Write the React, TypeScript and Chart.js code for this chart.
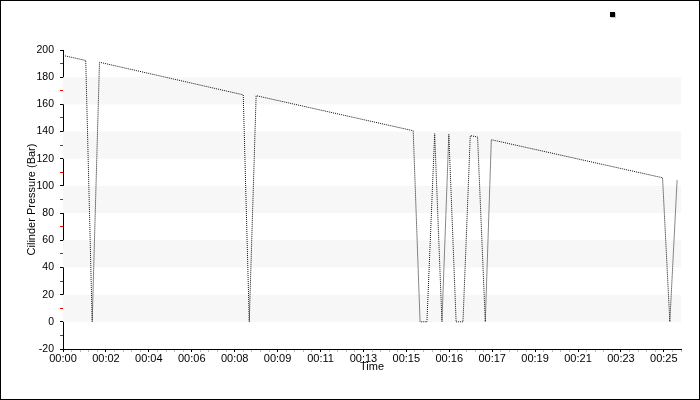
import React, { useEffect, useRef } from "react";
import { Chart, registerables } from "chart.js";

Chart.register(...registerables);

// X tick labels (one per major tick, evenly spaced)
const xTickLabels = [
  "00:00", "00:02", "00:04", "00:06", "00:08", "00:09", "00:11", "00:13",
  "00:15", "00:16", "00:17", "00:19", "00:21", "00:23", "00:25",
];

// Time positions (in major-tick units) and cylinder pressure (Bar)
const times = [
  0, 0.53, 0.68, 0.85, 4.2, 4.34, 4.5, 8.16, 8.32, 8.48, 8.66, 8.83, 8.99,
  9.16, 9.32, 9.49, 9.66, 9.84, 9.98, 13.97, 14.14, 14.31,
];
const pressures = [
  196, 192.3, 0, 191, 167, 0, 166.4, 140.6, 0, 0, 138.4, 0, 138, 0, 0, 137,
  136, 0, 134, 106, 0, 104.7,
];

// Alternating shaded bands of the plot background
const bandRanges: [number, number][] = [
  [0, 20],
  [40, 60],
  [80, 100],
  [120, 140],
  [160, 180],
];

const Y_MIN = -20;
const Y_MAX = 200;
const X_MAX = 14.4;

const isMajorX = (v: number) => Math.abs(v - Math.round(v)) < 1e-6;
const isMajorY = (v: number) => Math.abs(v % 20) < 1e-6;

const bandsPlugin = {
  id: "bands",
  beforeDatasetsDraw(chart: any) {
    const { ctx, chartArea, scales } = chart;
    const y = scales.y;
    ctx.save();
    ctx.fillStyle = "#f7f7f7";
    bandRanges.forEach(([a, b]) => {
      const y1 = y.getPixelForValue(b);
      const y2 = y.getPixelForValue(a);
      ctx.fillRect(chartArea.left, y1, chartArea.right - chartArea.left, y2 - y1);
    });
    ctx.restore();
  },
};

const framePlugin = {
  id: "frame",
  afterDraw(chart: any) {
    const { ctx } = chart;
    ctx.save();
    // legend marker (no text)
    ctx.fillStyle = "#c8c8c8";
    ctx.fillRect(611, 13, 5, 5);
    ctx.fillStyle = "#000";
    ctx.fillRect(610, 12, 5, 5);
    // outer border
    ctx.strokeStyle = "#000";
    ctx.lineWidth = 1;
    ctx.strokeRect(0.5, 0.5, chart.width - 1, chart.height - 1);
    ctx.restore();
  },
};

export default function App() {
  const ref = useRef<HTMLCanvasElement | null>(null);

  useEffect(() => {
    if (!ref.current) return;
    const chart = new Chart(ref.current, {
      type: "line",
      data: {
        datasets: [
          {
            label: "",
            data: times.map((t, i) => ({ x: t, y: pressures[i] })),
            borderColor: "#111",
            borderWidth: 1,
            borderDash: [1, 1],
            pointRadius: 0,
            fill: false,
            tension: 0,
          },
        ],
      },
      options: {
        animation: false,
        responsive: false,
        maintainAspectRatio: false,
        layout: { padding: { left: 0, top: 50, right: 19, bottom: 26 } },
        plugins: {
          legend: { display: false },
          tooltip: { enabled: false },
        },
        scales: {
          x: {
            type: "linear",
            min: 0,
            max: X_MAX,
            afterFit(scale: any) {
              scale.height = 25;
            },
            border: { display: true, color: "#000", width: 1 },
            grid: {
              drawOnChartArea: false,
              drawTicks: true,
              tickLength: 3,
              tickWidth: 1,
              tickColor: (c: any) => (isMajorX(c.tick.value) ? "#000" : "#bbb"),
            },
            ticks: {
              stepSize: 0.2,
              autoSkip: false,
              maxRotation: 0,
              padding: 0,
              color: "#000",
              font: { family: "Liberation Sans", size: 11 },
              callback: (v: any) => {
                const n = Number(v);
                return isMajorX(n) ? xTickLabels[Math.round(n)] ?? "" : "";
              },
            },
            title: {
              display: true,
              text: "Time",
              color: "#000",
              font: { family: "Liberation Sans", size: 11 },
              padding: { top: 0, bottom: 0 },
            },
          },
          y: {
            type: "linear",
            min: Y_MIN,
            max: Y_MAX,
            afterFit(scale: any) {
              scale.width = 63;
            },
            border: { display: true, color: "#000", width: 1 },
            grid: {
              drawOnChartArea: false,
              drawTicks: true,
              tickLength: 3,
              tickWidth: 1,
              tickColor: (c: any) => (isMajorY(c.tick.value) ? "#000" : "#f00"),
            },
            ticks: {
              stepSize: 10,
              autoSkip: false,
              padding: 6,
              color: "#000",
              font: { family: "Liberation Sans", size: 10.5 },
              callback: (v: any) => (isMajorY(Number(v)) ? String(v) : ""),
            },
            title: {
              display: true,
              text: "Cilinder Pressure (Bar)",
              color: "#000",
              font: { family: "Liberation Sans", size: 11 },
              padding: { top: 25, bottom: 0 },
            },
          },
        },
      },
      plugins: [bandsPlugin, framePlugin],
    });
    return () => chart.destroy();
  }, []);

  return (
    <div
      style={{
        position: "fixed",
        left: 0,
        top: 0,
        width: 700,
        height: 400,
        background: "#fff",
      }}
    >
      <canvas ref={ref} width={700} height={400} style={{ width: 700, height: 400 }} />
    </div>
  );
}
